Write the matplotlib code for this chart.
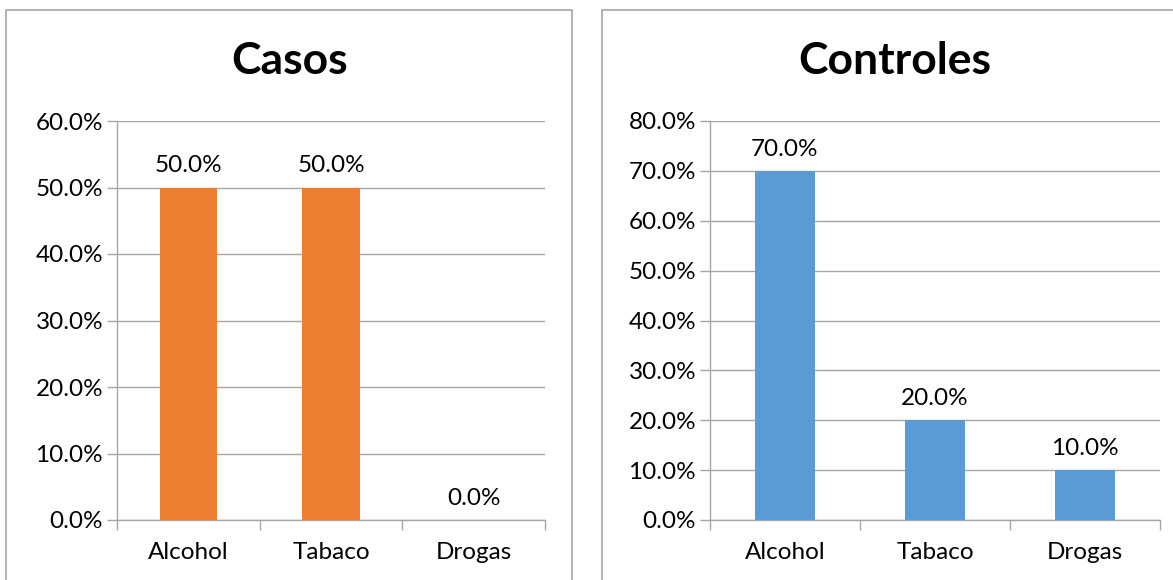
import matplotlib.pyplot as plt
from matplotlib.patches import Rectangle
from matplotlib.ticker import FuncFormatter, MultipleLocator

plt.rcParams['font.family'] = ['Lato', 'DejaVu Sans']

categorias = ["Alcohol", "Tabaco", "Drogas"]
casos = [50.0, 50.0, 0.0]
controles = [70.0, 20.0, 10.0]

GRIS = "#A6A6A6"

fig = plt.figure(figsize=(11.73, 5.8), dpi=100)

# marcos de cada grafico
W, H = 1173, 580
for x0, x1 in [(6, 572), (602, 1180)]:
    fig.patches.append(Rectangle((x0 / W, -0.1), (x1 - x0) / W, 1.1 - 10 / H,
                                 transform=fig.transFigure, fill=False,
                                 edgecolor=GRIS, linewidth=1.2))


def panel(rect, valores, color, titulo, ymax, title_x):
    ax = fig.add_axes(rect)
    x = range(len(categorias))
    barras = ax.bar(x, valores, width=0.40, color=color, zorder=3)
    for b, v in zip(barras, valores):
        ax.annotate(f"{v:.1f}%", (b.get_x() + b.get_width() / 2, v),
                    xytext=(0, 8), textcoords="offset points",
                    ha="center", va="bottom", fontsize=17.5)
    ax.set_xlim(-0.5, len(categorias) - 0.5)
    ax.set_ylim(0, ymax)
    ax.yaxis.set_major_locator(MultipleLocator(10))
    ax.yaxis.set_major_formatter(FuncFormatter(lambda v, p: f"{v:.1f}%"))
    ax.set_xticks([i - 0.5 for i in range(len(categorias) + 1)], minor=False)
    ax.set_xticklabels([])
    ax.set_xticks(list(x), minor=True)
    ax.set_xticklabels(categorias, minor=True)
    ax.tick_params(axis="x", which="major", length=7, color=GRIS, width=1)
    ax.tick_params(axis="x", which="minor", length=0, pad=16, labelsize=17.5)
    ax.tick_params(axis="y", length=7, color=GRIS, width=1, labelsize=17.5, pad=3)
    ax.grid(axis="y", color=GRIS, linewidth=1, zorder=0)
    for s in ["top", "right"]:
        ax.spines[s].set_visible(False)
    for s in ["left", "bottom"]:
        ax.spines[s].set_color(GRIS)
        ax.spines[s].set_linewidth(1)
    fig.text(title_x, 1 - 61 / H, titulo, ha="center", va="center",
             fontsize=32, fontweight="bold")
    return ax


panel([117 / W, 60 / H, 428 / W, 399 / H], casos, "#ED7D31", "Casos", 60, 290 / W)
panel([710 / W, 60 / H, 450 / W, 399 / H], controles, "#5B9BD5", "Controles", 80, 895 / W)

fig.savefig("out.png", dpi=100)
